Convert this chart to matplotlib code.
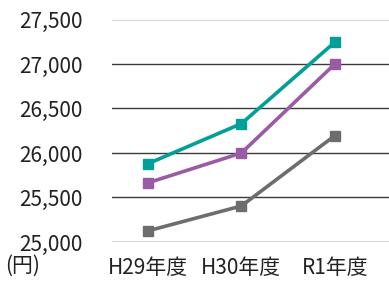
import numpy as np
import matplotlib; matplotlib.use('Agg'); import matplotlib.pyplot as plt

plt.rcParams['font.family'] = ['Noto Sans CJK JP', 'DejaVu Sans']

years = ['H29年度', 'H30年度', 'R1年度']
teal = [25880, 26330, 27245]
purple = [25665, 26000, 27000]
gray = [25125, 25405, 26195]
yticks = [25000, 25500, 26000, 26500, 27000, 27500]

fig = plt.figure(figsize=(3.89, 2.81), dpi=100)
ax = fig.add_axes([112/389, 39/281, 1 - 112/389, (242 - 19.5)/281])

x = np.arange(len(years))
for vals, col in [(gray, '#6d6d6d'), (purple, '#9b5aa6'), (teal, '#00a099')]:
    ax.plot(x, vals, '-s', color=col, lw=2.6, ms=6.5, clip_on=False, zorder=3)

ax.set_xlim(-0.385, 2.58); ax.set_ylim(25000, 27500)
ax.set_yticks(yticks)
ax.set_yticklabels([f"{v:,}" for v in yticks])
ax.set_xticks(x); ax.set_xticklabels(years)
ax.tick_params(length=0, labelsize=15, colors='#222222')
ax.tick_params(axis='y', pad=21)
ax.tick_params(axis='x', pad=11)
ax.grid(axis='y', color='#3a3a3a', lw=1)
ax.set_axisbelow(True)
for s in ax.spines.values(): s.set_visible(False)

fig.text(5/389, 1 - 266/281, '(円)', fontsize=15, color='#222222', va='center', ha='left')
fig.savefig('out.png', dpi=100)
